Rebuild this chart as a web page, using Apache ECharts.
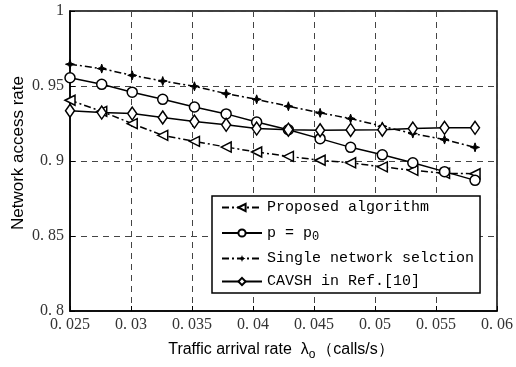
<!DOCTYPE html>
<html>
<head>
<meta charset="utf-8">
<script src="https://cdn.jsdelivr.net/npm/echarts@6/dist/echarts.min.js"></script>
<style>
html,body{margin:0;padding:0;background:#fff;}
#chart{width:516px;height:367px;}
</style>
</head>
<body>
<div id="chart"></div>
<script>
// Data
var xValues = [0.0250, 0.0276, 0.0301, 0.0326, 0.0352, 0.0378, 0.0403, 0.0429, 0.0455, 0.0480, 0.0506, 0.0531, 0.0557, 0.0582];
var proposed = [0.9405, 0.9331, 0.9249, 0.9171, 0.9131, 0.9093, 0.9060, 0.9031, 0.9005, 0.8988, 0.8961, 0.8938, 0.8918, 0.8915];
var pEqualsP0 = [0.9555, 0.9511, 0.9459, 0.9411, 0.9360, 0.9314, 0.9260, 0.9208, 0.9149, 0.9091, 0.9041, 0.8988, 0.8929, 0.8871];
var singleNetwork = [0.9645, 0.9616, 0.9571, 0.9533, 0.9498, 0.9449, 0.9411, 0.9365, 0.9321, 0.9283, 0.9231, 0.9183, 0.9143, 0.9091];
var cavsh = [0.9335, 0.9323, 0.9316, 0.9290, 0.9263, 0.9241, 0.9216, 0.9209, 0.9205, 0.9207, 0.9209, 0.9216, 0.9221, 0.9221];
var seriesNames = ['Proposed algorithm', 'p = p0', 'Single network selction', 'CAVSH in Ref.[10]'];
var xTicks = {min: 0.025, max: 0.06, interval: 0.005};
var yTicks = {min: 0.8, max: 1, interval: 0.05};

function pairs(ys) { return xValues.map(function (x, i) { return [x, ys[i]]; }); }
function fmt(v) {
  var s = String(+(+v).toFixed(3));
  return s.replace('0.', '0. ');
}

var chart = echarts.init(document.getElementById('chart'), null, {renderer: 'canvas'});
var dashDot = [7, 3, 2, 3];
var starPath = 'path://M0,-5 L1.3,-1.3 L5,0 L1.3,1.3 L0,5 L-1.3,1.3 L-5,0 L-1.3,-1.3 Z';
var hollow = {color: '#fff', borderColor: '#000', borderWidth: 1.5};

var option = {
  backgroundColor: '#fff',
  animation: false,
  grid: {left: 70, right: 18, top: 11, bottom: 56, show: true, borderColor: '#000', borderWidth: 1.5, backgroundColor: 'transparent'},
  xAxis: {
    type: 'value', min: xTicks.min, max: xTicks.max, interval: xTicks.interval,
    axisLine: {show: true, lineStyle: {color: '#000', width: 1.5}},
    axisTick: {show: true, inside: true, length: 5, lineStyle: {color: '#000'}},
    axisLabel: {formatter: fmt, fontFamily: 'Liberation Serif', fontSize: 16, color: '#333', margin: 6},
    splitLine: {show: true, lineStyle: {color: '#444', type: [6, 5], width: 1}}
  },
  yAxis: {
    type: 'value', min: yTicks.min, max: yTicks.max, interval: yTicks.interval,
    axisLine: {show: true, lineStyle: {color: '#000', width: 1.5}},
    axisTick: {show: true, inside: true, length: 5, lineStyle: {color: '#000'}},
    axisLabel: {formatter: fmt, fontFamily: 'Liberation Serif', fontSize: 16, color: '#333', margin: 6},
    splitLine: {show: true, lineStyle: {color: '#444', type: [6, 5], width: 1}}
  },
  legend: {
    orient: 'vertical', left: 212, top: 196,
    padding: [4, 6, 4, 9], itemGap: 8, itemWidth: 40, itemHeight: 9,
    backgroundColor: '#fff', borderColor: '#000', borderWidth: 1.5, borderRadius: 0,
    data: seriesNames,
    formatter: function (name) {
      if (name === 'p = p0') return '{t|p = p}{s|0}';
      return '{t|' + name + '}';
    },
    textStyle: {
      fontFamily: 'Liberation Mono', fontSize: 15, color: '#000',
      rich: {
        t: {fontFamily: 'Liberation Mono', fontSize: 15, color: '#000', lineHeight: 16},
        s: {fontFamily: 'Liberation Mono', fontSize: 12, color: '#000', padding: [8, 0, 0, 0], lineHeight: 16}
      }
    }
  },
  series: [
    {name: seriesNames[0], type: 'line', data: pairs(proposed), symbol: 'triangle', symbolRotate: 90, symbolSize: 10,
     lineStyle: {color: '#000', width: 1.5, type: dashDot}, itemStyle: hollow, z: 3},
    {name: seriesNames[1], type: 'line', data: pairs(pEqualsP0), symbol: 'circle', symbolSize: 10,
     lineStyle: {color: '#000', width: 1.5}, itemStyle: hollow, z: 3},
    {name: seriesNames[2], type: 'line', data: pairs(singleNetwork), symbol: starPath, symbolSize: 9,
     lineStyle: {color: '#000', width: 1.5, type: dashDot}, itemStyle: {color: '#000', borderColor: '#000'}, z: 3},
    {name: seriesNames[3], type: 'line', data: pairs(cavsh), symbol: 'diamond', symbolSize: [9, 13],
     lineStyle: {color: '#000', width: 1.5}, itemStyle: hollow, z: 3}
  ],
  graphic: [
    {type: 'text', x: 18, y: 153, rotation: Math.PI / 2,
     style: {text: 'Network access rate', font: '17px "Liberation Sans"', fill: '#000', align: 'center', verticalAlign: 'middle'}},
    {type: 'text', x: 281, y: 350,
     style: {text: '{a|Traffic arrival rate  λ}{s|o}{a|（calls/s）}', align: 'center', verticalAlign: 'middle', fill: '#000',
       rich: {
         a: {fontFamily: 'Liberation Sans', fontSize: 16, fill: '#000', color: '#000', lineHeight: 18},
         s: {fontFamily: 'Liberation Sans', fontSize: 12, fill: '#000', color: '#000', padding: [10, 2, 0, 0], lineHeight: 18}
       }}}
  ]
};
chart.setOption(option);
</script>
</body>
</html>
